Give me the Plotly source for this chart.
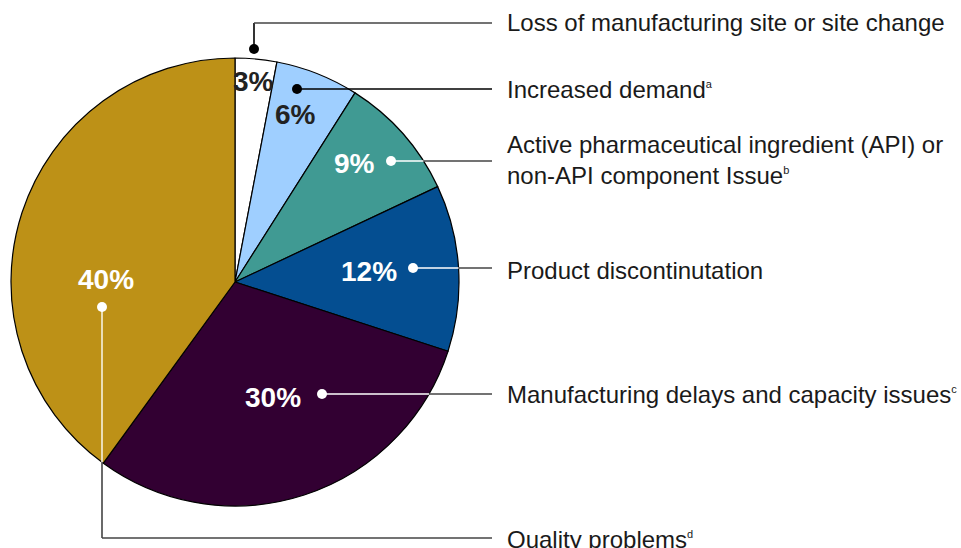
import plotly.graph_objects as go
import math

# ---- data ----
SUP = "<sup><span style='font-size:11px'>{}</span></sup>"
categories = [
    "Loss of manufacturing site or site change",
    "Increased demand" + SUP.format("a"),
    "Active pharmaceutical ingredient (API) or<br>non-API component Issue" + SUP.format("b"),
    "Product discontinutation",
    "Manufacturing delays and capacity issues" + SUP.format("c"),
    "Quality problems" + SUP.format("d"),
]
values = [3, 6, 9, 12, 30, 40]
pct_labels = [f"{v}%" for v in values]

# ---- style ----
colors = ["#FFFFFF", "#9FCFFF", "#409A93", "#044E91", "#320032", "#BD9117"]
pct_font_colors = ["#222222", "#222222", "#FFFFFF", "#FFFFFF", "#FFFFFF", "#FFFFFF"]
W, H = 961, 548
CX, CY, R = 235, 282, 224

# label positions (pixels) for percentages
pct_pos = [(253, 81), (295, 114), (354, 163), (369, 271), (273, 398), (106, 279)]
# leader dots (pixels), and the text y centre for each category
dot_pos = [(254, 49), (297, 89), (391, 161), (413, 268), (322, 394), (102, 307)]
text_y = [23, 90, 160, 270, 394, 539]
LINE_END_X = 492
TEXT_X = 505
dot_colors = ["#000000", "#000000", "#FFFFFF", "#FFFFFF", "#FFFFFF", "#FFFFFF"]
outer_line = "#444444"


def px(x):
    return x / W


def py(y):
    return 1 - y / H


fig = go.Figure()
fig.add_trace(go.Pie(
    values=values,
    labels=[c.replace("<br>", " ") for c in categories],
    sort=False,
    direction="clockwise",
    rotation=0,
    marker=dict(colors=colors, line=dict(color="#000000", width=1.2)),
    textinfo="none",
    hoverinfo="percent",
    domain=dict(x=[px(CX - R), px(CX + R)], y=[py(CY + R), py(CY - R)]),
    showlegend=False,
))

shapes = []
annotations = []

def seg(x0, y0, x1, y1, color):
    shapes.append(dict(type="line", xref="paper", yref="paper",
                       x0=px(x0), y0=py(y0), x1=px(x1), y1=py(y1),
                       line=dict(color=color, width=1.6), layer="above"))

for i, (dx, dy) in enumerate(dot_pos):
    if i == 0:
        seg(dx, dy, dx, text_y[0], "#000000")
        seg(dx, text_y[0], LINE_END_X, text_y[0], outer_line)
    elif i == 1:
        seg(dx, dy, LINE_END_X, dy, "#000000")
    elif i == 5:
        edge_y = CY + math.sqrt(R * R - (dx - CX) ** 2)
        seg(dx, edge_y, dx, 538, outer_line)
        seg(dx, 538, LINE_END_X, 538, outer_line)
        seg(dx, dy, dx, edge_y, "#F5F0E0")
    else:
        edge_x = CX + math.sqrt(R * R - (dy - CY) ** 2)
        seg(edge_x, dy, LINE_END_X, dy, outer_line)
        seg(dx, dy, edge_x, dy, "#FFFFFF")
    rr = 5
    shapes.append(dict(type="circle", xref="paper", yref="paper",
                       x0=px(dx - rr), x1=px(dx + rr), y0=py(dy + rr), y1=py(dy - rr),
                       fillcolor=dot_colors[i], line=dict(width=0), layer="above"))

for i, cat in enumerate(categories):
    annotations.append(dict(
        x=px(TEXT_X), y=py(text_y[i]), xref="paper", yref="paper",
        xanchor="left", yanchor="middle", align="left", showarrow=False,
        text=cat, font=dict(family="Liberation Sans, Arial, sans-serif", size=24, color="#1a1a1a"),
    ))

for i, lab in enumerate(pct_labels):
    x, y = pct_pos[i]
    annotations.append(dict(
        x=px(x), y=py(y), xref="paper", yref="paper",
        xanchor="center", yanchor="middle", showarrow=False,
        text=f"<b>{lab}</b>",
        font=dict(family="Liberation Sans, Arial, sans-serif", size=28, color=pct_font_colors[i]),
    ))

fig.update_layout(
    width=W, height=H,
    margin=dict(l=0, r=0, t=0, b=0),
    paper_bgcolor="#FFFFFF",
    plot_bgcolor="#FFFFFF",
    shapes=shapes,
    annotations=annotations,
    showlegend=False,
)

fig.write_html("out.html", config={"displayModeBar": False},
               post_script="document.body.style.margin='0px';document.body.style.overflow='hidden';")
